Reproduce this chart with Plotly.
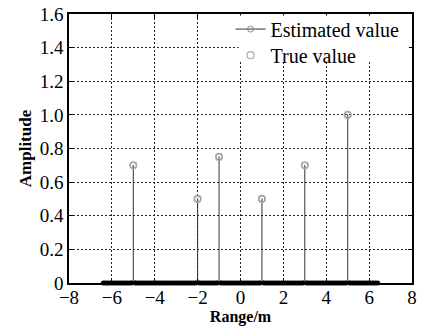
import numpy as np
import plotly.graph_objects as go

# Target positions (m) and amplitudes
target_range = [-5, -2, -1, 1, 3, 5]
true_amp = [0.70, 0.50, 0.75, 0.50, 0.70, 1.00]
est_amp = [0.70, 0.50, 0.75, 0.50, 0.70, 1.00]

# Range bins of the estimate (zero everywhere except targets)
range_bins = np.round(np.arange(-64, 65) / 10.0, 1)
zero_bins = [r for r in range_bins if not any(abs(r - t) < 1e-9 for t in target_range)]
zero_vals = [0.0] * len(zero_bins)

x_ticks = [-8, -6, -4, -2, 0, 2, 4, 6, 8]
y_ticks = [0, 0.2, 0.4, 0.6, 0.8, 1.0, 1.2, 1.4, 1.6]
y_ticktext = ["0", "0.2", "0.4", "0.6", "0.8", "1.0", "1.2", "1.4", "1.6"]

FONT = "Liberation Serif"
GRAY = "#888888"

stem_x, stem_y = [], []
for r, a in zip(target_range, est_amp):
    stem_x += [r, r, None]
    stem_y += [a, 0, None]

fig = go.Figure()
fig.add_trace(go.Scatter(
    x=stem_x, y=stem_y, mode="lines+markers", name="Estimated value",
    line=dict(color="#333333", width=1),
    marker=dict(symbol="circle-dot", size=6, color="rgba(0,0,0,0)",
                line=dict(color=GRAY, width=1)),
    legend="legend",
))
fig.add_trace(go.Scatter(
    x=target_range, y=true_amp, mode="markers", name="True value",
    marker=dict(symbol="circle-open", size=7, color="#aaaaaa", line=dict(width=1.2)),
    legend="legend2",
))
fig.add_trace(go.Scatter(
    x=zero_bins, y=zero_vals, mode="markers", showlegend=False,
    marker=dict(symbol="circle", size=5, color="black"),
    cliponaxis=False,
))

axis_common = dict(
    showline=True, linecolor="black", linewidth=1.5, mirror="ticks",
    ticks="inside", ticklen=4, tickcolor="black",
    showgrid=True, gridcolor="#222222", gridwidth=1, griddash="2px,2px",
    zeroline=False, tickfont=dict(family=FONT, size=19, color="black"),
)

legend_common = dict(xanchor="left", yanchor="middle", bgcolor="rgba(0,0,0,0)",
                     borderwidth=0, font=dict(family=FONT, size=20, color="black"),
                     itemwidth=30)

fig.update_layout(
    width=426, height=326,
    margin=dict(l=69, r=14, t=14, b=43, autoexpand=False),
    paper_bgcolor="white", plot_bgcolor="white",
    font=dict(family=FONT, color="black"),
    xaxis=dict(range=[-8, 8], tickvals=x_ticks, **axis_common, ticklabelstandoff=-4,
               title=dict(text="<b>Range/m</b>", font=dict(family=FONT, size=16), standoff=0)),
    yaxis=dict(range=[0, 1.6], tickvals=y_ticks, ticktext=y_ticktext, **axis_common,
               ticklabelstandoff=0,
               title=dict(text="<b>Amplitude</b>", font=dict(family=FONT, size=17), standoff=4)),
    legend=dict(x=0.471, y=0.944, **legend_common),
    legend2=dict(x=0.471, y=0.847, **legend_common),
    shapes=[dict(type="rect", xref="paper", yref="paper", x0=0.494, x1=0.991,
                 y0=0.822, y1=0.994, fillcolor="white", line=dict(width=0),
                 layer="above")],
)

fig.write_html("out.html")
